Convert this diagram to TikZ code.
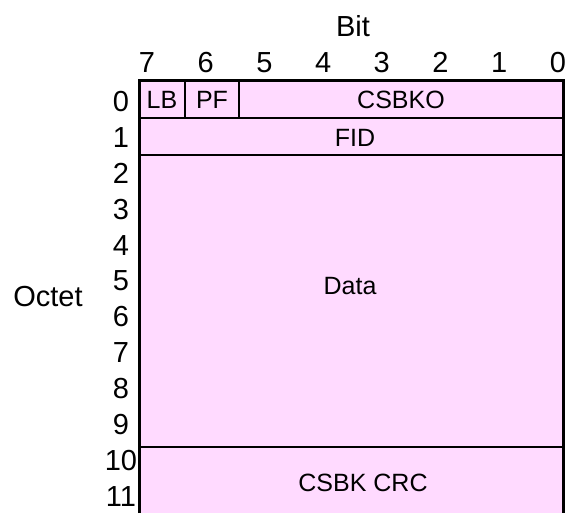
\documentclass[tikz,border=0pt]{standalone}
\usepackage{fontspec}
\setmainfont{Liberation Sans}
\definecolor{cellpink}{RGB}{255,218,255}
\begin{document}
\begin{tikzpicture}[x=1pt,y=-1pt,
  lbl/.style={font=\fontsize{29}{29}\selectfont,inner sep=0pt,text height=20.8pt,text depth=0pt},
  celltxt/.style={font=\fontsize{25}{25}\selectfont,inner sep=0pt,text height=17.9pt,text depth=0pt},
  outer/.style={line width=3pt},
  rowline/.style={line width=2.6pt},
  thin/.style={line width=1.4pt}]
\useasboundingbox[fill=white] (0,0) rectangle (569,513);
% fill
\fill[cellpink] (139,81) rectangle (563,513);
% cell nodes (for text)
\node[celltxt] (lb) at (162,100) {LB};
\node[celltxt] (pf) at (212,100) {PF};
\node[celltxt] (csbko) at (401,100) {CSBKO};
\node[celltxt] (fid) at (355,138) {FID};
\node[celltxt] (data) at (350,286) {Data};
\node[celltxt] (crc) at (363,483) {CSBK CRC};
% lines
\draw[thin] (185,81) -- (185,118);
\draw[thin] (239,81) -- (239,118);
\draw[rowline] (139,118) -- (563,118);
\draw[rowline] (139,155) -- (563,155);
\draw[rowline] (139,447) -- (563,447);
\draw[outer] (139,513) -- (139,81) -- (563,81) -- (563,513);
% labels
\node[lbl] (bit) at (353,26) {Bit};
\node[lbl] (octet) at (48,296) {Octet};
\foreach \b [count=\i from 0] in {7,6,5,4,3,2,1,0} {
  \node[lbl] (c\b) at (147+58.7*\i,62) {\b};
}
\foreach \r in {0,...,11} {
  \node[lbl] (r\r) at (121,101+35.9*\r) {\r};
}
\end{tikzpicture}
\end{document}
